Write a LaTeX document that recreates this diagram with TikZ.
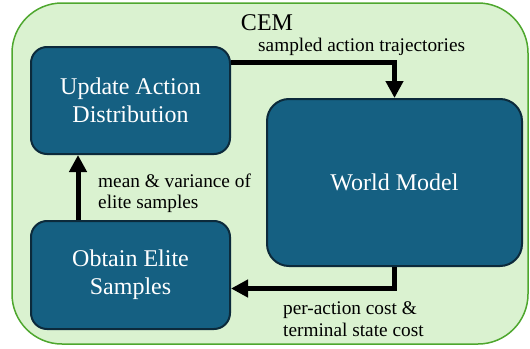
\documentclass[tikz,border=0pt]{standalone}
\usepackage{fontspec}
\setmainfont{Liberation Serif}
\usetikzlibrary{arrows.meta}

\definecolor{cemfill}{HTML}{DAF2D0}
\definecolor{cemline}{HTML}{4EA72E}
\definecolor{boxfill}{HTML}{156082}
\definecolor{boxline}{HTML}{0C2A3B}

\tikzset{
  block/.style={draw=boxline, fill=boxfill, line width=2pt, text=white,
    align=center, font=\fontsize{24}{28}\selectfont, inner sep=0pt},
  lbl/.style={font=\fontsize{19.3}{21.5}\selectfont, inner sep=0pt, align=left},
  arr/.style={line width=5pt, -{Triangle[length=17pt,width=17pt]}}
}

\begin{document}
\begin{tikzpicture}[x=1pt, y=-1pt]
  \useasboundingbox (0,0) rectangle (530,348);

  % outer CEM frame
  \draw[fill=cemfill, draw=cemline, line width=1.5pt, rounded corners=50pt]
    (12,3) rectangle (528,344);
  \node[font=\fontsize{24}{28}\selectfont, anchor=base, inner sep=0pt] (cem) at (267,30) {CEM};

  % the three stages
  \node[block, rounded corners=16pt, minimum width=199pt, minimum height=107pt]
    (upd) at (130.5,100.5) {Update Action\\Distribution};
  \node[block, rounded corners=16pt, minimum width=199pt, minimum height=108pt]
    (elite) at (130.5,275) {Obtain Elite\\Samples};
  \node[block, rounded corners=22pt, minimum width=255pt, minimum height=167pt]
    (wm) at (394.5,182.5) {World Model};

  % connectors
  \draw[arr] ([yshift=38.5pt]upd.east) -| (wm.north);
  \draw[arr] (wm.south) |- ([yshift=-13.5pt]elite.east);
  \draw[arr] ([xshift=-52.5pt]elite.north) -- ([xshift=-52.5pt]upd.south);

  % connector labels
  \node[lbl, anchor=base west] (l1) at (258,51.7) {sampled action trajectories};
  \node[lbl, anchor=base west] (l2a) at (98,187) {mean \& variance of};
  \node[lbl, anchor=base west] (l2b) at (98,208) {elite samples};
  \node[lbl, anchor=base west] (l3a) at (283,314) {per-action cost \&};
  \node[lbl, anchor=base west] (l3b) at (283,336) {terminal state cost};
\end{tikzpicture}
\end{document}
